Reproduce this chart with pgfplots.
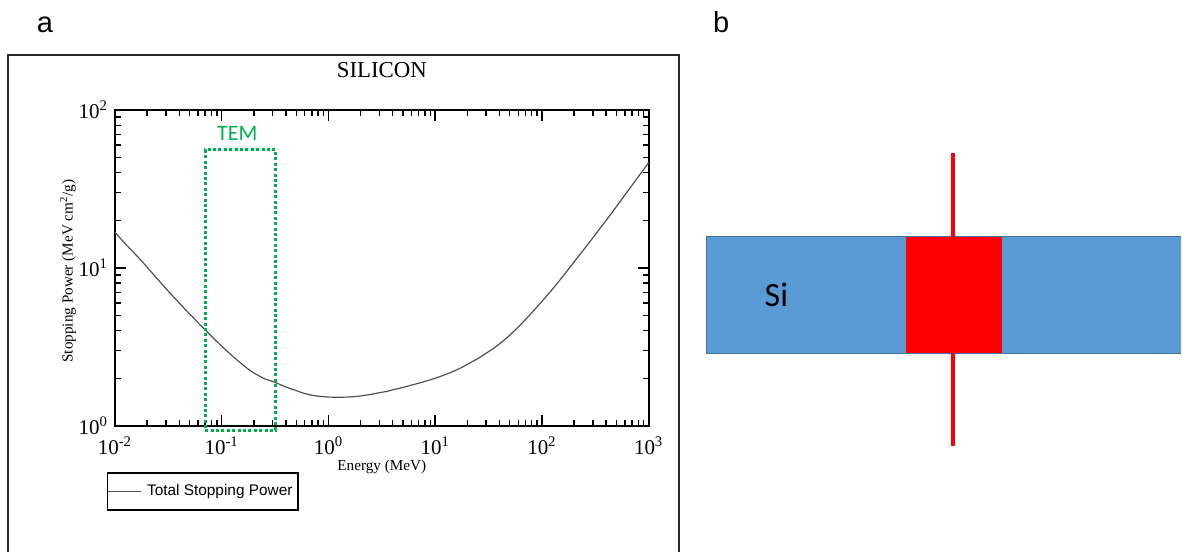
\documentclass[border=0pt]{standalone}
\usepackage{fontspec}
\setmainfont{Liberation Serif}
\newfontfamily\arialfont{Liberation Sans}
\newfontfamily\calibrifont{Carlito}
\usepackage{pgfplots}
\pgfplotsset{compat=1.18}
\usepackage{pgfplotstable}

\definecolor{curvegray}{HTML}{505050}
\definecolor{temgreen}{HTML}{00B050}
\definecolor{siblue}{HTML}{5B9BD5}
\definecolor{siedge}{HTML}{41719C}
\definecolor{framegray}{HTML}{2A2A2A}

\newcommand\ticksize{\fontsize{10.5}{12}\selectfont}
\newcommand\labsize{\fontsize{7.6}{9}\selectfont}
\newcommand\titlesize{\fontsize{11.4}{13}\selectfont}

% Total stopping power of electrons in silicon (MeV cm^2/g) vs kinetic energy (MeV)
\pgfplotstableread{
E      S
0.01   16.8
0.0125 14.2
0.015  12.5
0.0175 11.2
0.02   10.1
0.025  8.5
0.03   7.4
0.035  6.6
0.04   6.0
0.045  5.5
0.05   5.1
0.055  4.8
0.06   4.5
0.07   4.05
0.08   3.70
0.09   3.42
0.1    3.19
0.125  2.78
0.15   2.50
0.175  2.30
0.2    2.16
0.25   1.99
0.3    1.91
0.35   1.83
0.4    1.76
0.45   1.71
0.5    1.67
0.55   1.63
0.6    1.60
0.7    1.56
0.8    1.54
0.9    1.53
1.0    1.52
1.25   1.515
1.5    1.52
1.75   1.53
2      1.545
2.5    1.58
3      1.62
3.5    1.65
4      1.69
4.5    1.72
5      1.75
5.5    1.78
6      1.81
7      1.86
8      1.91
9      1.955
10     2.00
12.5   2.11
15     2.22
17.5   2.33
20     2.45
25     2.66
30     2.88
35     3.08
40     3.30
45     3.52
50     3.75
60     4.22
70     4.70
80     5.18
90     5.66
100    6.14
125    7.30
150    8.50
175    9.70
200    10.9
250    13.2
300    15.5
350    17.8
400    20.0
500    24.5
600    29.0
700    33.4
800    37.8
900    42.1
1000   46.3
}\stopping

\begin{document}
\begin{tikzpicture}
\begin{scope}[x=0.5pt,y=-0.5pt]
  \useasboundingbox (0,0) rectangle (1182,552);
  \coordinate (aSW) at (115,426);
  \coordinate (bSW) at (690,460);
  % frame around panel a
  \draw[framegray, line width=1pt] (8.3,556) -- (8.3,55) -- (679,55) -- (679,556);
  \node[font=\arialfont\fontsize{14.5}{16}\selectfont, anchor=base] at (45,33) {a};
  \node[font=\arialfont\fontsize{14.5}{16}\selectfont, anchor=base] at (721.5,33) {b};
\end{scope}

% panel a: stopping power curve
\begin{axis}[
  at={(aSW)}, anchor=south west,
  scale only axis, width=267pt, height=158pt,
  xmode=log, ymode=log,
  xmin=0.01, xmax=1000, ymin=1, ymax=100,
  clip=false,
  axis line style={line width=1pt},
  tick style={black, line width=0.7pt},
  major tick length=5.5pt, minor tick length=3pt,
  tick align=inside,
  xtick={0.01,0.1,1,10,100,1000},
  xticklabels={10\textsuperscript{-2},10\textsuperscript{-1},10\textsuperscript{0},10\textsuperscript{1},10\textsuperscript{2},10\textsuperscript{3}},
  minor xtick={0.02,0.03,0.04,0.05,0.06,0.07,0.08,0.09,0.2,0.3,0.4,0.5,0.6,0.7,0.8,0.9,2,3,4,5,6,7,8,9,20,30,40,50,60,70,80,90,200,300,400,500,600,700,800,900},
  ytick={1,10,100},
  yticklabels={10\textsuperscript{0},10\textsuperscript{1},10\textsuperscript{2}},
  minor ytick={2,3,4,5,6,7,8,9,20,30,40,50,60,70,80,90},
  xticklabel style={font=\ticksize, yshift=-2pt},
  yticklabel style={font=\ticksize},
  xlabel={Energy (MeV)},
  xlabel style={font=\labsize, at={(axis description cs:0.5,-0.13)}, anchor=center},
  ylabel={Stopping Power (MeV cm\textsuperscript{2}/g)},
  ylabel style={font=\labsize, at={(axis description cs:-0.088,0.49)}, anchor=center},
  title={SILICON},
  every axis title shift=0pt,
  title style={font=\titlesize, at={(axis description cs:0.5,1.127)}, anchor=center},
  legend style={at={(-0.0155,-0.1456)}, anchor=north west, draw=black, line width=0.9pt,
    font=\arialfont\fontsize{7.7}{9}\selectfont,
    inner xsep=0pt, inner ysep=0pt,
    nodes={inner xsep=2.65pt, inner ysep=5.7pt}},
  legend cell align=left,
  legend image code/.code={%
    \path (0pt,0pt) -- (16.5pt,0pt);
    \draw[#1, line width=0.6pt] (1.5pt,0pt) -- (13pt,0pt);},
]
\addplot[curvegray, line width=0.6pt] table[x=E, y=S] {\stopping};
\addlegendentry{Total Stopping Power}
% energy window used in TEM
\addplot[temgreen, line width=1.5pt, dash pattern=on 1.5pt off 1.2pt, forget plot]
  coordinates {(0.07,0.94) (0.32,0.94) (0.32,55.8) (0.07,55.8)} --cycle;
\node[font=\calibrifont\fontsize{11}{13}\selectfont, text=temgreen, anchor=base]
  at (axis cs:0.14,64) {TEM};
\end{axis}

% panel b: silicon slab with the beam
\begin{axis}[
  at={(bSW)}, anchor=south west,
  scale only axis, width=246pt, height=165pt,
  xmin=690, xmax=1182, ymin=130, ymax=460,
  y dir=reverse, hide axis, clip=false,
]
\addplot[draw=none, fill=siblue] coordinates {(707,236.7) (1182,236.7) (1182,353.3) (707,353.3)} --cycle;
\addplot[siedge, line width=0.6pt] coordinates {(1182,236.7) (707,236.7) (707,353.3) (1182,353.3)};
\addplot[red, line width=1.75pt] coordinates {(953.3,153.3) (953.3,446.7)};
\addplot[draw=none, fill=red] coordinates {(906,237) (1002.7,237) (1002.7,353) (906,353)} --cycle;
\node[font=\calibrifont\fontsize{17}{19}\selectfont, anchor=base west] at (axis cs:758,307) {Si};
\end{axis}
\end{tikzpicture}
\end{document}
